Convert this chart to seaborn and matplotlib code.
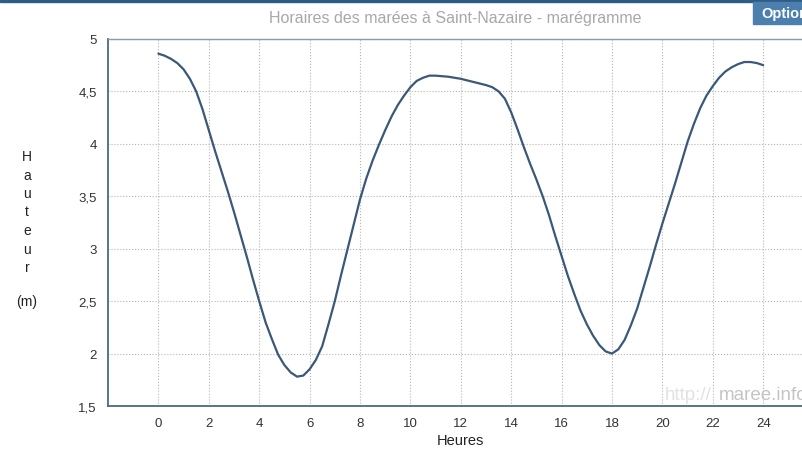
import matplotlib
matplotlib.use("Agg")
import matplotlib.pyplot as plt
import pandas as pd
import seaborn as sns

# tide heights, every quarter hour (hours, metres)
heures = [0, 0.25, 0.5, 0.75, 1, 1.25, 1.5, 1.75, 2, 2.25, 2.5, 2.75, 3, 3.25,
          3.5, 3.75, 4, 4.25, 4.5, 4.75, 5, 5.25, 5.5, 5.75, 6, 6.25, 6.5, 6.75,
          7, 7.25, 7.5, 7.75, 8, 8.25, 8.5, 8.75, 9, 9.25, 9.5, 9.75, 10, 10.25,
          10.5, 10.75, 11, 11.5, 12, 12.5, 13, 13.25, 13.5, 13.75, 14, 14.25,
          14.5, 14.75, 15, 15.25, 15.5, 15.75, 16, 16.25, 16.5, 16.75, 17, 17.25,
          17.5, 17.75, 18, 18.25, 18.5, 18.75, 19, 19.25, 19.5, 19.75, 20, 20.25,
          20.5, 20.75, 21, 21.25, 21.5, 21.75, 22, 22.25, 22.5, 22.75, 23, 23.25,
          23.5, 23.75, 24]
hauteur = [4.86, 4.84, 4.81, 4.77, 4.71, 4.62, 4.50, 4.33, 4.13, 3.93, 3.74, 3.55,
           3.35, 3.14, 2.93, 2.71, 2.50, 2.30, 2.14, 1.99, 1.89, 1.82, 1.78, 1.79,
           1.85, 1.94, 2.07, 2.28, 2.50, 2.75, 2.99, 3.23, 3.47, 3.67, 3.84, 3.99,
           4.13, 4.26, 4.37, 4.46, 4.54, 4.60, 4.63, 4.65, 4.65, 4.64, 4.62, 4.59,
           4.56, 4.54, 4.50, 4.43, 4.30, 4.14, 3.97, 3.81, 3.66, 3.50, 3.32, 3.12,
           2.93, 2.74, 2.57, 2.41, 2.28, 2.17, 2.08, 2.02, 2.00, 2.04, 2.13, 2.27,
           2.43, 2.63, 2.83, 3.04, 3.24, 3.43, 3.62, 3.82, 4.02, 4.19, 4.34, 4.46,
           4.55, 4.63, 4.69, 4.73, 4.76, 4.78, 4.78, 4.77, 4.75]
x_ticks = list(range(0, 25, 2))
y_ticks = [1.5, 2, 2.5, 3, 3.5, 4, 4.5, 5]
y_labels = ["1,5", "2", "2,5", "3", "3,5", "4", "4,5", "5"]

df = pd.DataFrame({"heure": heures, "hauteur": hauteur})

sns.set_style("white")
plt.rcParams['font.family'] = ['Liberation Sans', 'DejaVu Sans']

fig = plt.figure(figsize=(8.03, 4.52), dpi=100)
ax = fig.add_axes([0.1345, 0.0996, 0.8787, 0.812])

sns.lineplot(data=df, x="heure", y="hauteur", ax=ax, color="#3a5878", linewidth=1.6)

ax.set_xlim(-2, 26)
ax.set_ylim(1.5, 5)
ax.set_xticks(x_ticks)
ax.set_xticklabels([str(t) for t in x_ticks])
ax.set_yticks(y_ticks)
ax.set_yticklabels(y_labels)
ax.tick_params(axis="both", labelsize=9.5, colors="#333333", length=0, pad=8)
ax.grid(True, linestyle=":", color="#b5b5b5", linewidth=0.8)

for side in ["left", "bottom"]:
    ax.spines[side].set_color("#4c6a80")
    ax.spines[side].set_linewidth(1.3)
ax.spines["top"].set_color("#8a9aa6")
ax.spines["top"].set_linewidth(1.0)
ax.spines["right"].set_visible(False)

ax.set_xlabel("Heures", fontsize=10.5, color="#222222", labelpad=3)
ax.set_ylabel("")

fig.text(0.567, 0.958, "Horaires des marées à Saint-Nazaire - marégramme",
         ha="center", va="center", fontsize=11.5, color="#a8a8a8")

# vertical stacked y label
for i, ch in enumerate("Hauteur"):
    fig.text(27 / 803, 1 - (157 + i * 18.5) / 452, ch, ha="center", va="center",
             fontsize=10, color="#222222")
fig.text(27 / 803, 1 - 302 / 452, "(m)", ha="center", va="center",
         fontsize=10, color="#222222")

# watermark
fig.text(665 / 803, 1 - 396 / 452, "http://", ha="left", va="center",
         fontsize=13.5, color="#e2e2e2")
fig.text(719 / 803, 1 - 396 / 452, "maree.info", ha="left", va="center",
         fontsize=13.5, color="#c4c4c4")

# header bar and option button
fig.patches.append(plt.Rectangle((0, 1 - 3 / 452), 1, 3 / 452, transform=fig.transFigure,
                                 color="#2d5c86", zorder=5))
fig.patches.append(plt.Rectangle((753 / 803, 1 - 25 / 452), 55 / 803, 22 / 452,
                                 transform=fig.transFigure, color="#4c7fae", zorder=5))
fig.text(761 / 803, 1 - 14 / 452, "Option", ha="left", va="center",
         fontsize=10.5, fontweight="bold", color="white", zorder=6)

fig.savefig("out.png", dpi=100)
